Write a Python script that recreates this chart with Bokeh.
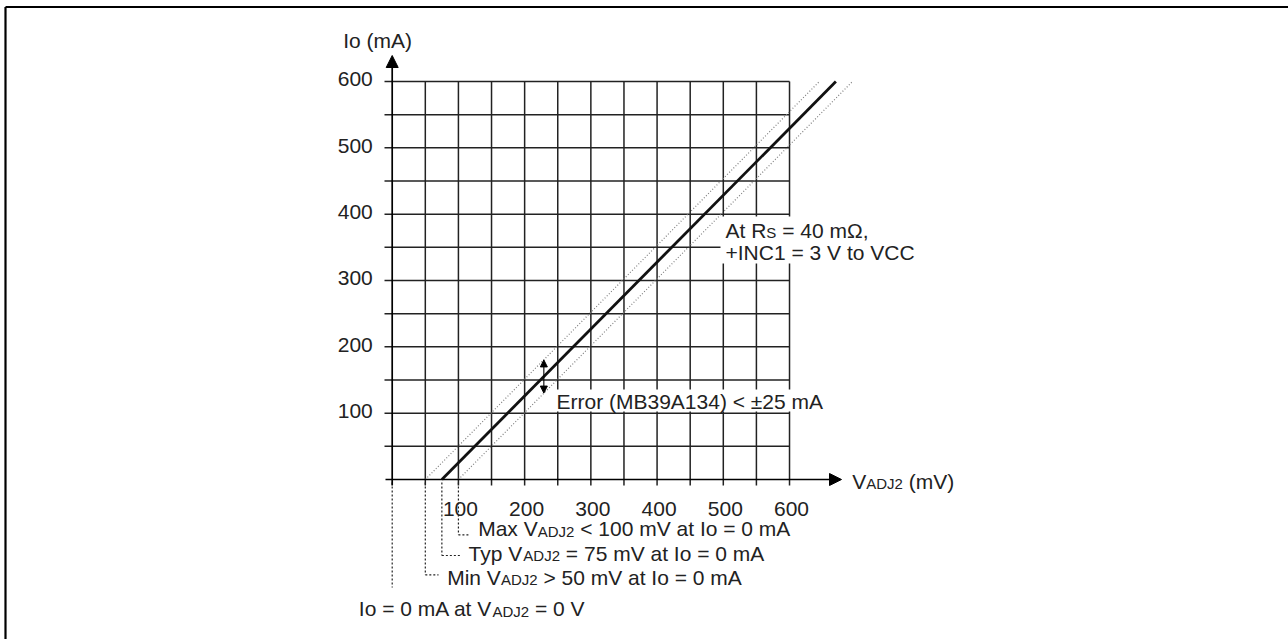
import numpy as np
from bokeh.plotting import figure
from bokeh.models import Range1d, Arrow, NormalHead, BoxAnnotation, Label
from bokeh.core.properties import value
from bokeh.embed import file_html
from bokeh.resources import INLINE

# ---------------- data ----------------
x_ticks = [100, 200, 300, 400, 500, 600]          # VADJ2 (mV)
y_ticks = [100, 200, 300, 400, 500, 600]          # Io (mA)
grid_step = 50
grid_max_v = 600
grid_max_i = 600

typ_v = [75, 670]     # typical characteristic
typ_i = [0, 600]
min_v = [50, 645]     # lower error bound
min_i = [0, 600]
max_v = [100, 695]    # upper error bound
max_i = [0, 600]

err_v = 229           # where the error arrow is drawn (mV)
err_band = 25         # +/- 25 mA

marker_v = [100, 75, 50, 0]
marker_texts = [
    [("Max V", "big"), ("ADJ2", "small"), (" < 100 mV at  Io = 0 mA", "big")],
    [("Typ V", "big"), ("ADJ2", "small"), (" = 75 mV  at  Io = 0 mA", "big")],
    [("Min V", "big"), ("ADJ2", "small"), (" > 50 mV at  Io = 0 mA", "big")],
    [("Io = 0 mA at V", "big"), ("ADJ2", "small"), (" = 0 V", "big")],
]

# ---------------- layout ----------------
FONT = "Liberation Sans"
BIG, SMALL = 21, 15
CAPH = 0.36            # half cap-height factor (centre above baseline)
TXT = "#222222"
FIG_W, FIG_H = 1288, 639
OX, OY = 391.7, 479.0           # page px of origin
SX, SY = 0.6622, 0.6633          # px per unit

x_lo = -OX / SX
x_hi = x_lo + FIG_W / SX
y_hi = OY / SY
y_lo = y_hi - FIG_H / SY


def px(xp):
    return (xp - OX) / SX


def py(yp):
    return (OY - yp) / SY


AW = {' ': 278, '(': 333, ')': 333, '+': 584, ',': 278, '.': 278, '<': 584, '=': 584,
      '>': 584, '±': 584, 'Ω': 768,
      'a': 556, 'b': 556, 'c': 500, 'd': 556, 'e': 556, 'f': 278, 'g': 556, 'h': 556,
      'i': 222, 'j': 222, 'k': 500, 'l': 222, 'm': 833, 'n': 556, 'o': 556, 'p': 556,
      'q': 556, 'r': 333, 's': 500, 't': 278, 'u': 556, 'v': 500, 'w': 722, 'x': 500,
      'y': 500, 'z': 500,
      'A': 667, 'B': 667, 'C': 722, 'D': 722, 'E': 667, 'F': 611, 'G': 778, 'H': 722,
      'I': 278, 'J': 500, 'K': 667, 'L': 556, 'M': 833, 'N': 722, 'O': 778, 'P': 667,
      'Q': 778, 'R': 722, 'S': 667, 'T': 611, 'U': 722, 'V': 667, 'W': 944, 'X': 667,
      'Y': 667, 'Z': 611}


def tw(t, size):
    return sum(AW.get(c, 556) for c in t) * size / 1000.0


p = figure(width=FIG_W, height=FIG_H, output_backend="svg", toolbar_location=None,
           x_range=Range1d(x_lo, x_hi), y_range=Range1d(y_lo, y_hi),
           x_axis_location=None, y_axis_location=None, min_border=0, title=None)
p.outline_line_color = None
p.background_fill_color = "white"
p.border_fill_color = "white"
p.xgrid.visible = False
p.ygrid.visible = False


def rich(x_px, base_px, parts, as_label=False):
    """Draw a run of text segments sharing one baseline (page px)."""
    off = 0.0
    for t, kind in parts:
        s = BIG if kind == "big" else SMALL
        lead = len(t) - len(t.lstrip(" "))
        off += tw(" " * lead, s)
        body = t.lstrip(" ")
        yc = py(base_px - CAPH * s)
        if as_label:
            p.add_layout(Label(x=px(x_px), y=yc, text=body, x_offset=off,
                               text_font=FONT, text_font_size=f"{s}px", text_align="left",
                               text_baseline="middle", text_color=TXT))
        else:
            p.text(x=[px(x_px)], y=[yc], text=[body], x_offset=off, text_font=value(FONT),
                   text_font_size=f"{s}px", text_align="left", text_baseline="middle",
                   text_color=TXT)
        off += tw(body, s)
    return off


# outer frame (top and left edges)
p.segment(x0=[px(5), px(5)], y0=[py(6.5), py(6.5)], x1=[x_hi, px(5)], y1=[py(6.5), y_lo],
          line_color="black", line_width=2.2)

# grid
GRID = "#222222"
gv = np.arange(grid_step, grid_max_v + 1, grid_step)
p.segment(x0=gv, y0=[py(485)] * len(gv), x1=gv, y1=[grid_max_i] * len(gv),
          line_color=GRID, line_width=1.5)
gi = np.arange(grid_step, grid_max_i + 1, grid_step)
p.segment(x0=[px(384)] * len(gi), y0=gi, x1=[grid_max_v] * len(gi), y1=gi,
          line_color=GRID, line_width=1.5)

# axes with arrows
p.add_layout(Arrow(x_start=0, y_start=py(485), x_end=0, y_end=py(55),
                   line_color="black", line_width=1.7,
                   end=NormalHead(size=12, fill_color="black", line_color="black")))
p.add_layout(Arrow(x_start=px(385), y_start=0, x_end=px(841), y_end=0,
                   line_color="black", line_width=1.7,
                   end=NormalHead(size=12, fill_color="black", line_color="black")))

# characteristic lines
p.line(min_v, min_i, line_color="#808080", line_width=1.2, line_dash="1 2")
p.line(max_v, max_i, line_color="#808080", line_width=1.2, line_dash="1 2")
p.line(typ_v, typ_i, line_color="#111111", line_width=2.8)

# error arrow
err_c = float(np.interp(err_v, typ_v, typ_i))
p.add_layout(Arrow(x_start=err_v, y_start=err_c - err_band, x_end=err_v, y_end=err_c + err_band,
                   line_color="black", line_width=1.1,
                   start=NormalHead(size=7, fill_color="black", line_color="black"),
                   end=NormalHead(size=7, fill_color="black", line_color="black")))

# tick labels (vertical centres in px relative to the grid line)
p.text(x=[px(372.3)] * len(y_ticks), y=[t + 2.3 / SY for t in y_ticks],
       text=[str(t) for t in y_ticks], text_align="right", text_baseline="middle",
       text_font=value(FONT), text_font_size=f"{BIG}px", text_color=TXT)
p.text(x=[t + 2 / SX for t in x_ticks], y=[py(508)] * len(x_ticks),
       text=[str(t) for t in x_ticks], text_align="center", text_baseline="middle",
       text_font=value(FONT), text_font_size=f"{BIG}px", text_color=TXT)

# axis titles
rich(342.7, 47.5, [("Io (mA)", "big")])
rich(851.7, 488.3, [("V", "big"), ("ADJ2", "small"), (" (mV)", "big")])

# Error annotation with white background
err_txt = "Error (MB39A134) < ±25 mA"
ew = tw(err_txt, BIG)
p.add_layout(BoxAnnotation(left=px(553), right=px(556 + ew + 3), top=py(389), bottom=py(411),
                           fill_color="white", fill_alpha=1.0, line_color=None))
rich(556, 408.3, [(err_txt, "big")], as_label=True)

# condition annotation with white background
line2 = "+INC1 = 3 V to VCC"
w2 = tw(line2, BIG)
p.add_layout(BoxAnnotation(left=px(720), right=px(725 + w2 + 4), top=py(216), bottom=py(263),
                           fill_color="white", fill_alpha=1.0, line_color=None))
rich(725, 237.3, [("At R", "big"), ("S", "small"), (" = 40 mΩ,", "big")], as_label=True)
rich(725, 259.3, [(line2, "big")], as_label=True)

# bottom markers (page-px layout: horizontal leader y, leader end x, text x, baseline y)
marker_layout = [
    (534.3, 469.0, 477.7, 536.0),
    (555.0, 460.0, 468.0, 560.7),
    (574.3, 438.0, 446.7, 584.3),
    (587.0, None, 358.3, 616.0),
]
for v, parts, (ly, lx_end, tx, ty) in zip(marker_v, marker_texts, marker_layout):
    p.segment(x0=[v], y0=[py(482)], x1=[v], y1=[py(ly)], line_color="#222222",
              line_width=1.2, line_dash="2 2")
    if lx_end is not None:
        p.segment(x0=[v], y0=[py(ly)], x1=[px(lx_end)], y1=[py(ly)],
                  line_color="#222222", line_width=1.2, line_dash="2 2")
    rich(tx, ty, parts)

open("out.html", "w").write(file_html(p, INLINE))
